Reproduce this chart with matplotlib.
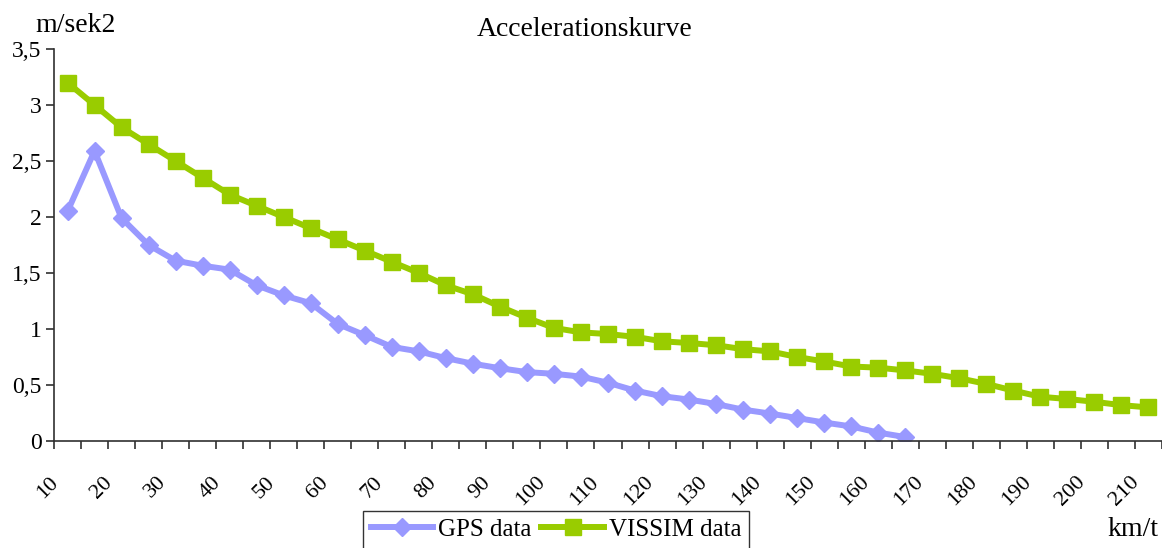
import numpy as np
import matplotlib
matplotlib.use('Agg')
import matplotlib.pyplot as plt
import matplotlib.transforms as mtrans
from matplotlib.ticker import FuncFormatter
from matplotlib.font_manager import FontProperties

###############################################################################
# Data
###############################################################################
SPEEDS = [
    10, 15, 20, 25, 30, 35, 40, 45, 50, 55, 60, 65, 70, 75, 80, 85, 90, 95,
    100, 105, 110, 115, 120, 125, 130, 135, 140, 145, 150, 155, 160, 165,
    170, 175, 180, 185, 190, 195, 200, 205, 210
]
GPS = [
    2.05, 2.59, 1.99, 1.75, 1.61, 1.565, 1.53, 1.39, 1.30, 1.23, 1.045,
    0.945, 0.84, 0.80, 0.74, 0.69, 0.65, 0.615, 0.60, 0.575, 0.52, 0.45,
    0.40, 0.37, 0.33, 0.28, 0.245, 0.205, 0.165, 0.13, 0.075, 0.035
]
VISSIM = [
    3.2, 3.0, 2.8, 2.65, 2.5, 2.35, 2.2, 2.1, 2.0, 1.9, 1.8, 1.7, 1.6, 1.5,
    1.39, 1.31, 1.2, 1.1, 1.01, 0.97, 0.955, 0.93, 0.89, 0.875, 0.855, 0.82,
    0.80, 0.75, 0.71, 0.665, 0.655, 0.63, 0.60, 0.56, 0.51, 0.45, 0.395,
    0.375, 0.35, 0.32, 0.30
]
Y_TICKS = [0, 0.5, 1, 1.5, 2, 2.5, 3, 3.5]

###############################################################################
# Style
###############################################################################
(C_GPS, C_VIS) = ('#9999FF', '#99CC00')
FONT = ['Liberation Serif', 'DejaVu Serif']
plt.rcParams['font.family'] = FONT
AX_COL = '#303030'

###############################################################################
# Figure
###############################################################################
fig = plt.figure(figsize=(11.62, 5.48), dpi=100)
ax = fig.add_axes([54/1162, 107/548, 1 - 54/1162, 392/548])

xg = np.arange(len(GPS))
xv = np.arange(len(VISSIM))
ax.plot(xg, GPS, color=C_GPS, lw=4.3, marker='D', ms=9.5,
        solid_joinstyle='round', label='GPS data')
ax.plot(xv, VISSIM, color=C_VIS, lw=4.3, marker='s', ms=12,
        solid_joinstyle='round', label='VISSIM data')

ax.set_xlim(-0.5, len(SPEEDS) - 0.5)
ax.set_ylim(0, 3.5)

# axes and ticks --------------------------------------------------------------
for s in ('top', 'right'):
    ax.spines[s].set_visible(False)
for s in ('left', 'bottom'):
    ax.spines[s].set_color(AX_COL)
    ax.spines[s].set_linewidth(1.2)

ax.set_yticks(Y_TICKS)
ax.yaxis.set_major_formatter(
    FuncFormatter(lambda v, p: ('%g' % v).replace('.', ','))
)
bounds = np.arange(len(SPEEDS) + 1) - 0.5
labels = [str(SPEEDS[i]) if (i < len(SPEEDS) and i % 2 == 0) else ''
          for i in range(len(bounds))]
ax.set_xticks(bounds)
ax.set_xticklabels(labels, rotation=45, ha='right', va='top',
                   rotation_mode='anchor')
ax.tick_params(axis='both', direction='out', length=6, width=1.2,
               color=AX_COL, labelsize=17, labelcolor='black')
ax.tick_params(axis='x', labelsize=16, pad=17)
ax.tick_params(axis='y', pad=3)
shift = mtrans.ScaledTranslation(-5/100, 0, fig.dpi_scale_trans)
for lbl in ax.get_xticklabels():
    lbl.set_transform(lbl.get_transform() + shift)

# texts -----------------------------------------------------------------------
fig.text(585/1162, 1 - 30/548, 'Accelerationskurve', ha='center',
         va='center', fontsize=20)
fig.text(35/1162, 1 - 26/548, 'm/sek2', ha='left', va='center', fontsize=20)
fig.text(1158/1162, 1 - 530/548, 'km/t', ha='right', va='center',
         fontsize=20)

# legend ----------------------------------------------------------------------
leg = fig.legend(loc='upper left', bbox_to_anchor=(363/1162, 1 - 511/548),
                 ncol=2, frameon=True, fancybox=False,
                 prop=FontProperties(family=FONT, size=18),
                 handlelength=2.5, handletextpad=0.2, columnspacing=0.4,
                 borderpad=0.3, borderaxespad=0)
leg.get_frame().set_edgecolor('black')
leg.get_frame().set_linewidth(1.0)

fig.savefig('out.png', dpi=100)
